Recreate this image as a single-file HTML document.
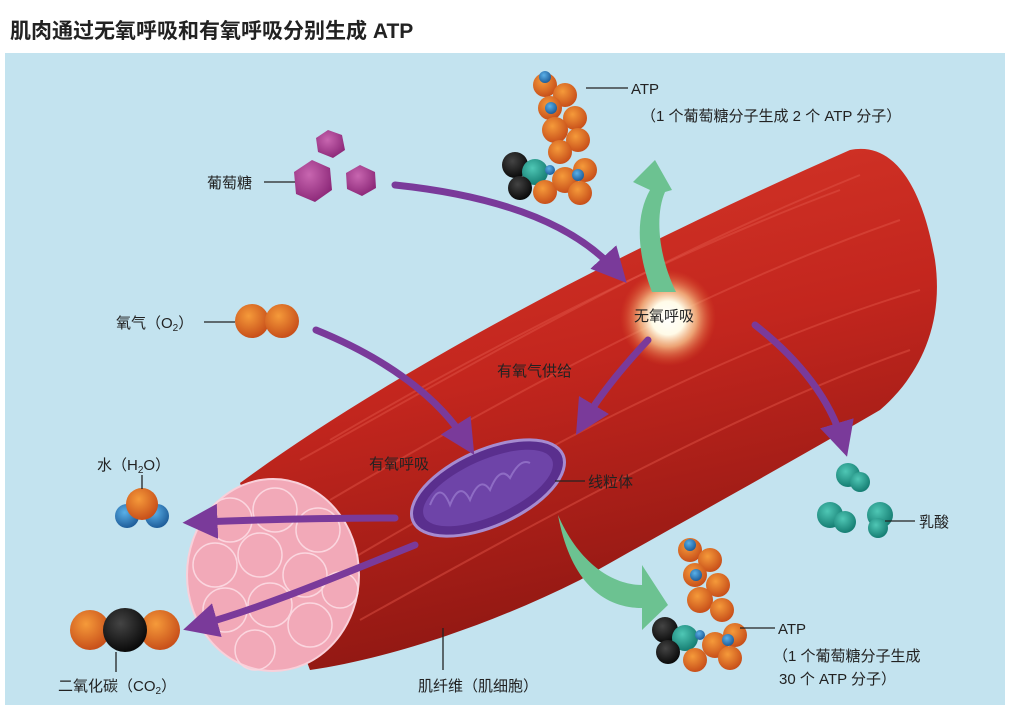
<!DOCTYPE html>
<html><head><meta charset="utf-8"><style>
body{margin:0;background:#fff;width:1020px;height:715px;overflow:hidden;font-family:"Liberation Sans","Noto Sans CJK SC",sans-serif}
</style></head><body>
<svg width="1020" height="715" viewBox="0 0 1020 715" xmlns="http://www.w3.org/2000/svg" font-family="Liberation Sans, Noto Sans CJK SC, sans-serif">
<defs>
<radialGradient id="org" cx="40%" cy="35%" r="65%"><stop offset="0" stop-color="#f59a3a"/><stop offset="1" stop-color="#c8501a"/></radialGradient>
<radialGradient id="blu" cx="40%" cy="35%" r="65%"><stop offset="0" stop-color="#5ab0e8"/><stop offset="1" stop-color="#1f5e9a"/></radialGradient>
<radialGradient id="blk" cx="40%" cy="35%" r="65%"><stop offset="0" stop-color="#444"/><stop offset="1" stop-color="#0a0a0a"/></radialGradient>
<radialGradient id="teal" cx="40%" cy="35%" r="65%"><stop offset="0" stop-color="#4fc7b5"/><stop offset="1" stop-color="#167e73"/></radialGradient>
<radialGradient id="hex" cx="40%" cy="35%" r="65%"><stop offset="0" stop-color="#c866b0"/><stop offset="1" stop-color="#8e2a7a"/></radialGradient>
<radialGradient id="glow" cx="50%" cy="50%" r="50%"><stop offset="0" stop-color="#fff"/><stop offset="0.35" stop-color="#fffbe8"/><stop offset="0.6" stop-color="#f7c28a" stop-opacity="0.8"/><stop offset="1" stop-color="#e05a2a" stop-opacity="0"/></radialGradient>
<linearGradient id="mus" x1="0" y1="0" x2="0.3" y2="1"><stop offset="0" stop-color="#d8392a"/><stop offset="0.5" stop-color="#c3261e"/><stop offset="1" stop-color="#8e1712"/></linearGradient>
<marker id="pa" markerWidth="5" markerHeight="5" refX="2.5" refY="2.5" orient="auto" markerUnits="strokeWidth"><path d="M0,0 L5,2.5 L0,5 z" fill="#7a3a9a"/></marker>
</defs>
<text x="10" y="38" font-size="21" font-weight="bold" fill="#222">肌肉通过无氧呼吸和有氧呼吸分别生成 ATP</text>
<rect x="5" y="53" width="1000" height="652" fill="#c3e3ef"/>
<path d="M240,483 C380,380 600,260 850,150 C900,140 925,200 935,260 C945,330 915,380 880,410 C760,480 650,540 580,580 C480,630 380,660 310,670 Z" fill="url(#mus)"/>
<g stroke="#e2574a" stroke-opacity="0.45" stroke-width="2" fill="none">
<path d="M300,460 C480,360 650,260 860,175"/><path d="M330,500 C500,400 700,290 900,220"/><path d="M350,560 C520,460 720,350 920,290"/><path d="M360,620 C540,520 740,410 910,350"/><path d="M330,440 C500,340 680,250 840,190"/>
</g>
<ellipse cx="273" cy="575" rx="86" ry="96" fill="#f2a9b8" stroke="#f9d0da" stroke-width="2"/>
<g fill="none" stroke="#fbd6df" stroke-width="1.5">
<circle cx="230" cy="520" r="22"/><circle cx="275" cy="510" r="22"/><circle cx="318" cy="530" r="22"/><circle cx="215" cy="565" r="22"/><circle cx="260" cy="555" r="22"/><circle cx="305" cy="575" r="22"/><circle cx="340" cy="590" r="18"/><circle cx="225" cy="610" r="22"/><circle cx="270" cy="605" r="22"/><circle cx="310" cy="625" r="22"/><circle cx="255" cy="650" r="20"/>
</g>
<ellipse cx="488" cy="488" rx="82" ry="38" transform="rotate(-24 488 488)" fill="#5a2f8e" stroke="#a68bd0" stroke-width="3"/>
<ellipse cx="488" cy="488" rx="70" ry="28" transform="rotate(-24 488 488)" fill="#6e44a8"/>
<g stroke="#8e6cc4" stroke-width="2" fill="none"><path d="M430,505 q10,-25 20,0 q10,-25 20,-5 q10,-25 20,-10 q10,-25 20,-12 q10,-20 20,-15"/></g>
<circle cx="668" cy="318" r="48" fill="url(#glow)"/>
<path d="M652,292 C636,250 636,215 650,190 L633,182 L655,160 L672,190 L665,192 C655,215 658,255 676,292 Z" fill="#6cc291"/>
<path d="M558,515 C578,562 612,585 642,585 L642,565 L668,605 L642,630 L642,608 C602,608 570,580 558,515 Z" fill="#6cc291"/>
<g fill="none" stroke="#7a3a9a" stroke-width="7" stroke-linecap="round">
<path d="M395,185 C490,195 570,220 615,270" marker-end="url(#pa)"/>
<path d="M316,330 C390,360 440,400 465,440" marker-end="url(#pa)"/>
<path d="M648,340 C620,370 600,395 585,420" marker-end="url(#pa)"/>
<path d="M755,325 C800,360 830,400 842,440" marker-end="url(#pa)"/>
<path d="M395,518 C320,518 250,520 200,522" marker-end="url(#pa)"/>
<path d="M415,545 C340,575 270,605 200,625" marker-end="url(#pa)"/>
</g>
<polygon points="328,130 342,135 345,150 333,158 318,152 316,138" fill="url(#hex)"/>
<polygon points="312,160 330,168 332,190 315,202 296,194 294,172" fill="url(#hex)"/>
<polygon points="360,165 375,172 376,188 362,196 347,189 346,173" fill="url(#hex)"/>
<circle cx="252" cy="321" r="17" fill="url(#org)"/><circle cx="282" cy="321" r="17" fill="url(#org)"/>
<circle cx="127" cy="516" r="12" fill="url(#blu)"/><circle cx="157" cy="516" r="12" fill="url(#blu)"/><circle cx="142" cy="504" r="16" fill="url(#org)"/>
<circle cx="90" cy="630" r="20" fill="url(#org)"/><circle cx="160" cy="630" r="20" fill="url(#org)"/><circle cx="125" cy="630" r="22" fill="url(#blk)"/>
<g fill="url(#teal)"><circle cx="848" cy="475" r="12"/><circle cx="860" cy="482" r="10"/><circle cx="830" cy="515" r="13"/><circle cx="845" cy="522" r="11"/><circle cx="880" cy="515" r="13"/><circle cx="878" cy="528" r="10"/></g>
<g>
<circle cx="545" cy="85" r="12" fill="url(#org)"/><circle cx="565" cy="95" r="12" fill="url(#org)"/><circle cx="550" cy="108" r="12" fill="url(#org)"/><circle cx="575" cy="118" r="12" fill="url(#org)"/><circle cx="555" cy="130" r="13" fill="url(#org)"/><circle cx="578" cy="140" r="12" fill="url(#org)"/><circle cx="560" cy="152" r="12" fill="url(#org)"/>
<circle cx="515" cy="165" r="13" fill="url(#blk)"/><circle cx="535" cy="172" r="13" fill="url(#teal)"/><circle cx="520" cy="188" r="12" fill="url(#blk)"/><circle cx="545" cy="192" r="12" fill="url(#org)"/><circle cx="565" cy="180" r="13" fill="url(#org)"/><circle cx="585" cy="170" r="12" fill="url(#org)"/><circle cx="580" cy="193" r="12" fill="url(#org)"/>
<circle cx="545" cy="77" r="6" fill="url(#blu)"/><circle cx="551" cy="108" r="6" fill="url(#blu)"/><circle cx="578" cy="175" r="6" fill="url(#blu)"/><circle cx="550" cy="170" r="5" fill="url(#blu)"/>
</g>
<g>
<circle cx="690" cy="550" r="12" fill="url(#org)"/><circle cx="710" cy="560" r="12" fill="url(#org)"/><circle cx="695" cy="575" r="12" fill="url(#org)"/><circle cx="718" cy="585" r="12" fill="url(#org)"/><circle cx="700" cy="600" r="13" fill="url(#org)"/><circle cx="722" cy="610" r="12" fill="url(#org)"/>
<circle cx="665" cy="630" r="13" fill="url(#blk)"/><circle cx="685" cy="638" r="13" fill="url(#teal)"/><circle cx="668" cy="652" r="12" fill="url(#blk)"/><circle cx="695" cy="660" r="12" fill="url(#org)"/><circle cx="715" cy="645" r="13" fill="url(#org)"/><circle cx="735" cy="635" r="12" fill="url(#org)"/><circle cx="730" cy="658" r="12" fill="url(#org)"/>
<circle cx="690" cy="545" r="6" fill="url(#blu)"/><circle cx="696" cy="575" r="6" fill="url(#blu)"/><circle cx="728" cy="640" r="6" fill="url(#blu)"/><circle cx="700" cy="635" r="5" fill="url(#blu)"/>
</g>
<g stroke="#222" stroke-width="1.3">
<line x1="586" y1="88" x2="628" y2="88"/><line x1="264" y1="182" x2="295" y2="182"/><line x1="204" y1="322" x2="235" y2="322"/>
<line x1="142" y1="475" x2="142" y2="489"/><line x1="116" y1="652" x2="116" y2="672"/>
<line x1="555" y1="481" x2="585" y2="481"/><line x1="443" y1="628" x2="443" y2="670"/><line x1="885" y1="521" x2="915" y2="521"/><line x1="740" y1="628" x2="775" y2="628"/>
</g>
<g font-size="15" fill="#222">
<text x="631" y="94">ATP</text>
<text x="641" y="121">（1 个葡萄糖分子生成 2 个 ATP 分子）</text>
<text x="207" y="188">葡萄糖</text>
<text x="116" y="328">氧气（O<tspan font-size="10" dy="3">2</tspan><tspan dy="-3">）</tspan></text>
<text x="634" y="321">无氧呼吸</text>
<text x="497" y="376">有氧气供给</text>
<text x="369" y="469">有氧呼吸</text>
<text x="588" y="487">线粒体</text>
<text x="97" y="470">水（H<tspan font-size="10" dy="3">2</tspan><tspan dy="-3">O）</tspan></text>
<text x="919" y="527">乳酸</text>
<text x="58" y="691">二氧化碳（CO<tspan font-size="10" dy="3">2</tspan><tspan dy="-3">）</tspan></text>
<text x="418" y="691">肌纤维（肌细胞）</text>
<text x="778" y="634">ATP</text>
<text x="773" y="661">（1 个葡萄糖分子生成</text>
<text x="779" y="684">30 个 ATP 分子）</text>
</g>
</svg>
</body></html>
